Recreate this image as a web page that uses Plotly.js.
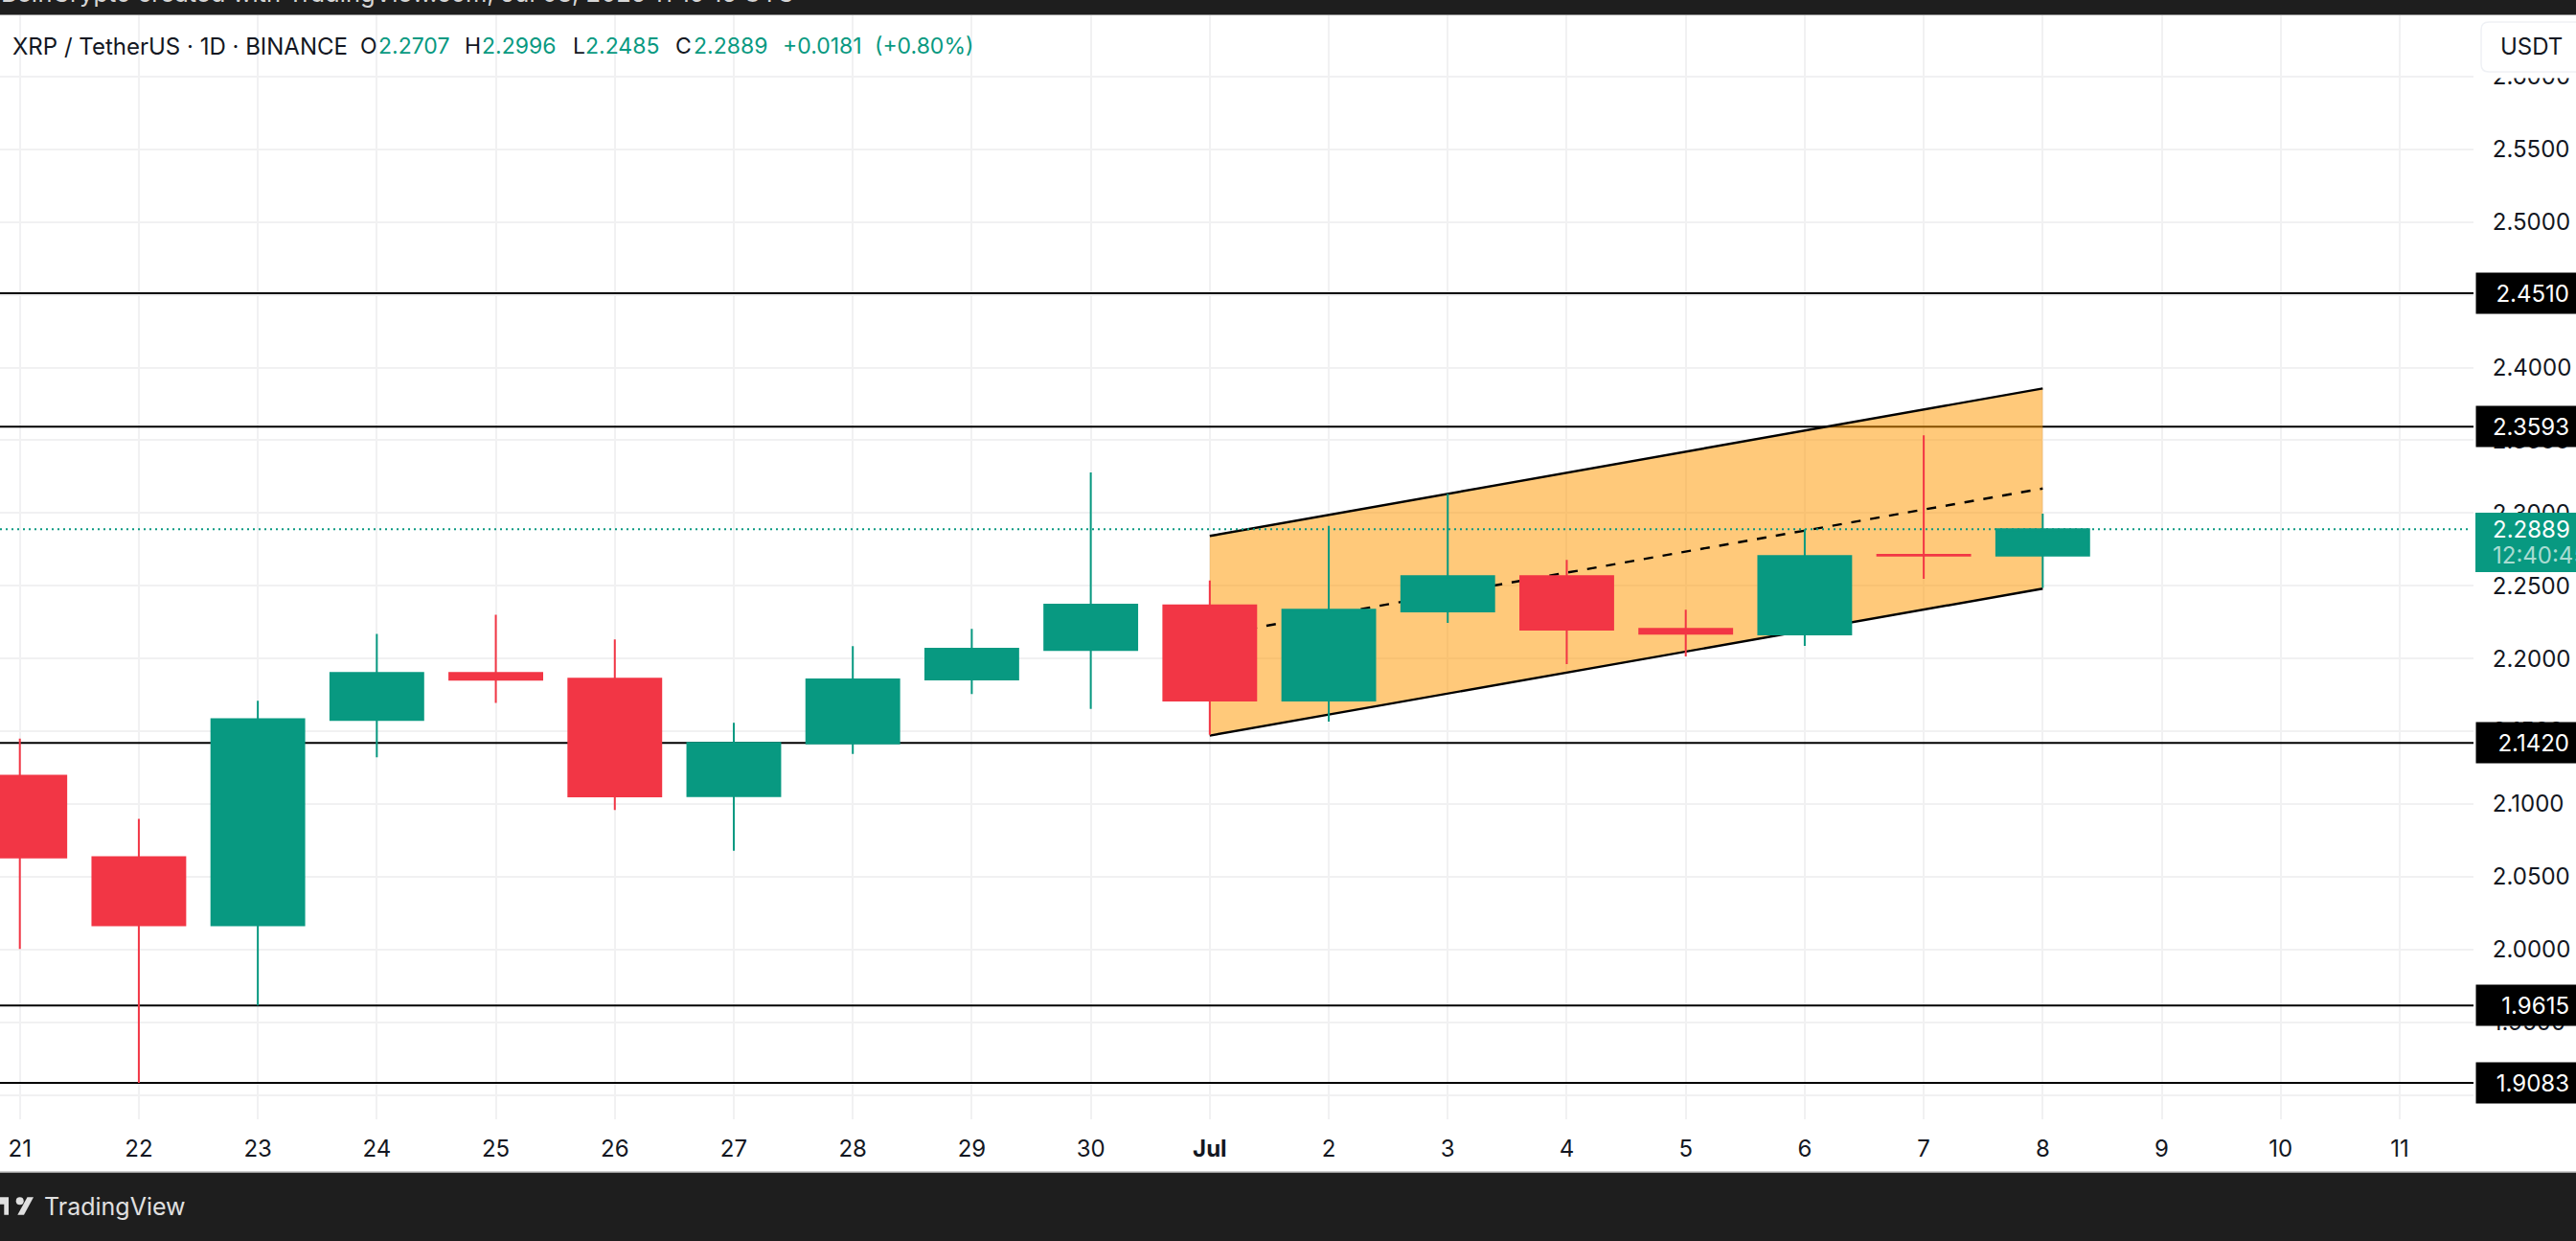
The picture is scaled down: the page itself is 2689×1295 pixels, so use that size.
<!DOCTYPE html>
<html>
<head>
<meta charset="utf-8">
<script src="https://cdn.plot.ly/plotly-3.0.1.min.js"></script>
<style>html,body{margin:0;padding:0;background:#fff;overflow:hidden}#chart{width:2689px;height:1295px}</style>
</head>
<body>
<div id="chart"></div>
<script>
// ---- data ----
var dates = ['2025-06-21','2025-06-22','2025-06-23','2025-06-24','2025-06-25','2025-06-26','2025-06-27','2025-06-28','2025-06-29','2025-06-30','2025-07-01','2025-07-02','2025-07-03','2025-07-04','2025-07-05','2025-07-06','2025-07-07','2025-07-08'];
var opens  = [2.1194,2.0634,2.0166,2.1577,2.1900,2.1860,2.1053,2.1416,2.1855,2.2059,2.2365,2.1711,2.2324,2.2565,2.2203,2.2166,2.2712,2.2707];
var highs  = [2.1449,2.0897,2.1709,2.2168,2.2300,2.2130,2.1558,2.2085,2.2204,2.3278,2.2536,2.2912,2.3132,2.2677,2.2335,2.2888,2.3534,2.2996];
var lows   = [2.0003,1.9083,1.9615,2.1320,2.1694,2.0958,2.0678,2.1343,2.1756,2.1653,2.1475,2.1566,2.2245,2.1961,2.2014,2.2087,2.2548,2.2485];
var closes = [2.0632,2.0166,2.1583,2.1900,2.1854,2.1052,2.1420,2.1855,2.2066,2.2369,2.1711,2.2335,2.2565,2.2199,2.2170,2.2704,2.2707,2.2889];
var levels = [2.4510,2.3593,2.1420,1.9615,1.9083];
var channelDates = ['2025-07-01','2025-07-08'];
var channelUpper = [2.2842,2.3856];
var channelMiddle = [2.2156,2.3168];
var channelLower = [2.1470,2.2480];
var lastPrice = 2.2889;
var countdown = '12:40:45';
var tickDates = ['2025-06-21','2025-06-22','2025-06-23','2025-06-24','2025-06-25','2025-06-26','2025-06-27','2025-06-28','2025-06-29','2025-06-30','2025-07-01','2025-07-02','2025-07-03','2025-07-04','2025-07-05','2025-07-06','2025-07-07','2025-07-08','2025-07-09','2025-07-10','2025-07-11'];
var tickLabels = ['21','22','23','24','25','26','27','28','29','30','<b>Jul</b>','2','3','4','5','6','7','8','9','10','11'];
var headerTitle = 'XRP / TetherUS · 1D · BINANCE';
var topCaption = 'BeInCrypto created with TradingView.com, Jul 08, 2025 11:19:15 UTC';

// ---- layout ----
var W=2689,H=1295,ML=0,MR=107,MT=16,MB=127,PW=W-ML-MR,PH=H-MT-MB;
var FONT='Inter, "Noto Sans", sans-serif', GREEN='#089981', RED='#F23645', DARK='#131722', BAR='#1e1e1e';
var xRange=['2025-06-20 20:00','2025-07-11 14:53'];
function px(x){return (x-ML)/PW;}
function py(y){return 1-(y-MT)/PH;}
function rectP(x0,y0,x1,y1,fill){return {type:'rect',xref:'paper',yref:'paper',x0:px(x0),x1:px(x1),y0:py(y0),y1:py(y1),fillcolor:fill,line:{width:0},layer:'above'};}
function polyP(points,fill){return {type:'path',xref:'paper',yref:'paper',path:'M '+points.map(function(p){return px(p[0])+' '+py(p[1]);}).join(' L ')+' Z',fillcolor:fill,line:{width:0},layer:'above'};}
function labelP(x,y,text,color,size,anchor,vanchor){return {xref:'paper',yref:'paper',x:px(x),y:py(y),text:text,showarrow:false,xanchor:anchor||'left',yanchor:vanchor||'middle',font:{family:FONT,size:size||24,color:color||DARK},borderpad:0};}

var shapes=[];
levels.forEach(function(v){
  shapes.push({type:'line',xref:'x',yref:'y',x0:xRange[0],x1:xRange[1],y0:v,y1:v,line:{color:'#000',width:2},layer:'between'});
});
shapes.push({type:'path',xref:'x',yref:'y',layer:'between',line:{width:0},fillcolor:'rgba(255,152,0,0.52)',
  path:'M '+channelDates[0]+' '+channelUpper[0]+' L '+channelDates[1]+' '+channelUpper[1]+' L '+channelDates[1]+' '+channelLower[1]+' L '+channelDates[0]+' '+channelLower[0]+' Z'});
[[channelUpper,'solid'],[channelLower,'solid'],[channelMiddle,'10px,10px']].forEach(function(s){
  shapes.push({type:'line',xref:'x',yref:'y',layer:'between',x0:channelDates[0],x1:channelDates[1],y0:s[0][0],y1:s[0][1],line:{color:'#000',width:2.4,dash:s[1]}});
});
shapes.push({type:'line',xref:'paper',yref:'y',x0:0,x1:px(2578),y0:lastPrice,y1:lastPrice,line:{color:GREEN,width:2,dash:'2px,4px'},layer:'above'});
// chrome: bars, price tag, currency button, logo
shapes.push(rectP(0,0,W,15,BAR));
shapes.push(rectP(0,15,W,16,'#8a8a8a'));
shapes.push(rectP(0,1224,W,H,BAR));
shapes.push(rectP(0,1222.5,W,1224,'#9a9a9a'));
shapes.push(rectP(2584,535,W,597,GREEN));
shapes.push(rectP(2584,16,W,81.5,'#fff'));
var r=8,bx=2590,by0=23,by1=75,bx1=2700;
shapes.push({type:'path',xref:'paper',yref:'paper',layer:'above',fillcolor:'#fff',line:{color:'#eff1f5',width:1.5},
  path:'M '+px(bx1)+' '+py(by0)+' L '+px(bx+r)+' '+py(by0)+' Q '+px(bx)+' '+py(by0)+' '+px(bx)+' '+py(by0+r)+' L '+px(bx)+' '+py(by1-r)+' Q '+px(bx)+' '+py(by1)+' '+px(bx+r)+' '+py(by1)+' L '+px(bx1)+' '+py(by1)+' Z'});
shapes.push(polyP([[0,1249.3],[9,1249.3],[9,1267.7],[4.3,1267.7],[4.3,1256.7],[0,1256.7]],'#e0e0e0'));
shapes.push({type:'circle',xref:'paper',yref:'paper',layer:'above',x0:px(16.7),x1:px(24.7),y0:py(1257.3),y1:py(1249.3),fillcolor:'#e0e0e0',line:{width:0}});
shapes.push(polyP([[28.5,1249.3],[35,1249.3],[25,1267.7],[18.3,1267.7]],'#e0e0e0'));

var annotations=[];
levels.forEach(function(v){
  annotations.push({xref:'paper',yref:'y',x:px(2584),y:v,text:v.toFixed(4),showarrow:false,xanchor:'left',yanchor:'middle',
    width:89,height:26,borderpad:8,align:'right',valign:'middle',bgcolor:'#000',font:{family:FONT,size:24,color:'#fff'}});
});
annotations.push({xref:'paper',yref:'y',x:px(2601),y:lastPrice,text:lastPrice.toFixed(4),showarrow:false,xanchor:'left',yanchor:'middle',font:{family:FONT,size:24,color:'#fff'},borderpad:0});
annotations.push(labelP(2601,580,countdown,'#a9dcd2',24));
annotations.push(labelP(2609,48,'USDT',DARK,24));
annotations.push(labelP(12,48,headerTitle,DARK,24));
var last=dates.length-1;
[['O',375,394,opens[last]],['H',484,502,highs[last]],['L',596.5,610,lows[last]],['C',704,723,closes[last]]].forEach(function(o){
  annotations.push(labelP(o[1],48,o[0],DARK,23));
  annotations.push(labelP(o[2],48,o[3].toFixed(4),GREEN,23));
});
annotations.push(labelP(816,48,'+0.0181',GREEN,23));
annotations.push(labelP(912,48,'(+0.80%)',GREEN,23));
annotations.push(labelP(0,9,topCaption,'#d6d6d6',25.5,'left','bottom'));
annotations.push(labelP(45,1259,'TradingView','#e0e0e0',25));

var trace={type:'candlestick',x:dates,open:opens,high:highs,low:lows,close:closes,whiskerwidth:0,
  increasing:{line:{color:GREEN,width:2},fillcolor:GREEN},
  decreasing:{line:{color:RED,width:2},fillcolor:RED},showlegend:false,hoverinfo:'skip'};

var layout={
  width:W,height:H,margin:{l:ML,r:MR,t:MT,b:MB,pad:0},
  paper_bgcolor:'#fff',plot_bgcolor:'#fff',showlegend:false,boxgap:0.22,boxgroupgap:0,dragmode:false,
  font:{family:FONT,size:24,color:DARK},
  xaxis:{type:'date',range:xRange,tickmode:'array',tickvals:tickDates,ticktext:tickLabels,
    showgrid:true,gridcolor:'#f1f1f2',gridwidth:2,zeroline:false,showline:false,ticks:'outside',ticklen:9,tickcolor:'rgba(0,0,0,0)',
    tickfont:{family:FONT,size:24,color:DARK},rangeslider:{visible:false},fixedrange:true},
  yaxis:{side:'right',range:[1.8832,2.6421],dtick:0.05,tick0:2,tickformat:'.4f',showgrid:true,gridcolor:'#f1f1f2',gridwidth:2,zeroline:false,showline:false,
    ticks:'outside',ticklen:14,tickcolor:'rgba(0,0,0,0)',tickfont:{family:FONT,size:24,color:DARK},fixedrange:true},
  shapes:shapes,annotations:annotations
};
Plotly.newPlot('chart',[trace],layout,{displayModeBar:false,staticPlot:true});
</script>
</body>
</html>
